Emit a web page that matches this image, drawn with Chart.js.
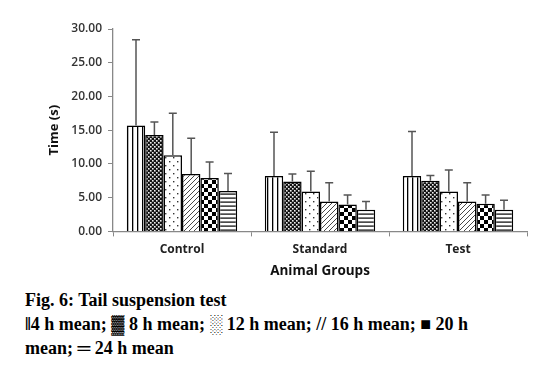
<!DOCTYPE html>
<html>
<head>
<meta charset="utf-8">
<script src="https://cdn.jsdelivr.net/npm/chart.js@4"></script>
<style>
  body { margin: 0; background: #fff; }
  #wrap { position: relative; width: 552px; height: 366px; }
  #chart { position: absolute; left: 0; top: 0; }
  #caption {
    position: absolute; left: 25px; top: 288px; width: 485px;
    font-family: "Liberation Serif", "Times New Roman", serif;
    font-weight: bold; font-size: 18px; line-height: 24px; color: #000;
  }
</style>
</head>
<body>
<div id="wrap">
  <canvas id="chart" width="552" height="285"></canvas>
  <div id="caption">Fig. 6: Tail suspension test<br>‖4 h mean; ▓ 8 h mean; ░ 12 h mean; // 16 h mean; ■ 20 h mean; ═ 24 h mean</div>
</div>
<script>
var groups = ['Control', 'Standard', 'Test'];
var seriesNames = ['4 h mean', '8 h mean', '12 h mean', '16 h mean', '20 h mean', '24 h mean'];

var mean4 = [15.7, 8.2, 8.2];
var mean8 = [14.3, 7.4, 7.5];
var mean12 = [11.3, 5.9, 5.9];
var mean16 = [8.5, 4.45, 4.45];
var mean20 = [7.9, 4.0, 4.1];
var mean24 = [6.0, 3.2, 3.2];

var sd4 = [12.7, 6.5, 6.6];
var sd8 = [1.9, 1.1, 0.8];
var sd12 = [6.2, 3.0, 3.2];
var sd16 = [5.3, 2.75, 2.75];
var sd20 = [2.4, 1.4, 1.3];
var sd24 = [2.6, 1.25, 1.4];

var means = [mean4, mean8, mean12, mean16, mean20, mean24];
var sds = [sd4, sd8, sd12, sd16, sd20, sd24];

function makePattern(size, draw) {
	var c = document.createElement('canvas');
	c.width = size; c.height = size;
	var g = c.getContext('2d');
	g.fillStyle = '#fff';
	g.fillRect(0, 0, size, size);
	g.fillStyle = '#000';
	g.strokeStyle = '#000';
	draw(g, size);
	return document.getElementById('chart').getContext('2d').createPattern(c, 'repeat');
}

var patterns = [
	// vertical lines
	makePattern(5, function(g, s) { g.fillRect(2, 0, 1.3, s); }),
	// dense dark texture
	makePattern(4, function(g, s) {
		g.fillStyle = '#111'; g.fillRect(0, 0, s, s);
		g.fillStyle = '#eee'; g.fillRect(0, 0, 1.6, 1.6); g.fillRect(2, 2, 1.6, 1.6);
	}),
	// sparse dots
	makePattern(8, function(g, s) {
		g.fillStyle = '#333'; g.fillRect(1, 1, 1.4, 1.4); g.fillRect(5, 5, 1.4, 1.4);
	}),
	// diagonal lines
	makePattern(5, function(g, s) {
		g.lineWidth = 0.9; g.strokeStyle = '#333';
		g.beginPath();
		g.moveTo(0, s); g.lineTo(s, 0);
		g.moveTo(-1, 1); g.lineTo(1, -1);
		g.moveTo(s - 1, s + 1); g.lineTo(s + 1, s - 1);
		g.stroke();
	}),
	// checkerboard
	makePattern(8, function(g, s) { g.fillRect(0, 0, 4, 4); g.fillRect(4, 4, 4, 4); }),
	// horizontal lines
	makePattern(4, function(g, s) { g.fillRect(0, 1.5, s, 1.2); })
];

var datasets = seriesNames.map(function(name, i) {
	return {
		label: name,
		data: means[i],
		backgroundColor: patterns[i],
		borderColor: '#000',
		borderWidth: 1.5,
		categoryPercentage: 0.8,
		barPercentage: 1.0
	};
});

var errorBars = {
	id: 'errorBars',
	afterDatasetsDraw: function(chart) {
		var ctx = chart.ctx;
		var y = chart.scales.y;
		ctx.save();
		ctx.strokeStyle = '#555';
		ctx.lineWidth = 1.5;
		chart.data.datasets.forEach(function(ds, i) {
			var meta = chart.getDatasetMeta(i);
			meta.data.forEach(function(bar, j) {
				var top = y.getPixelForValue(ds.data[j] + sds[i][j]);
				ctx.beginPath();
				ctx.moveTo(bar.x, bar.y);
				ctx.lineTo(bar.x, top);
				ctx.moveTo(bar.x - 4, top);
				ctx.lineTo(bar.x + 4, top);
				ctx.stroke();
			});
		});
		ctx.restore();
	}
};

var config = {
	type: 'bar',
	data: {
		labels: groups,
		datasets: datasets
	},
	options: {
		responsive: false,
		animation: false,
		layout: { padding: { left: 46, right: 25, top: 29, bottom: 2 } },
		plugins: {
			legend: { display: false },
			tooltip: { enabled: false }
		},
		scales: {
			x: {
				grid: { display: true, drawOnChartArea: false, offset: true, color: '#888', tickLength: 5 },
				border: { display: true, color: '#888', width: 1.3 },
				ticks: { color: '#222', font: { family: 'Open Sans', size: 12, weight: 'bold' }, padding: 6 },
				title: { display: true, text: 'Animal Groups', color: '#111', font: { family: 'Open Sans', size: 13.5, weight: 'bold' }, padding: { top: 0 } }
			},
			y: {
				min: 0, max: 30,
				afterFit: function(scale) { scale.width = 67; },
				grid: { display: true, drawOnChartArea: false, color: '#888', tickLength: 5 },
				border: { display: true, color: '#888', width: 1.3 },
				ticks: {
					stepSize: 5, color: '#333', padding: 6,
					font: { family: 'Open Sans', size: 12, weight: '600' },
					callback: function(v) { return v.toFixed(2); }
				},
				title: { display: true, text: 'Time (s)', color: '#111', font: { family: 'Open Sans', size: 13, weight: 'bold' }, padding: 0 }
			}
		}
	},
	plugins: [errorBars]
};

window.onload = function() {
	var ctx = document.getElementById('chart').getContext('2d');
	window.myBar = new Chart(ctx, config);
};
</script>
</body>
</html>
